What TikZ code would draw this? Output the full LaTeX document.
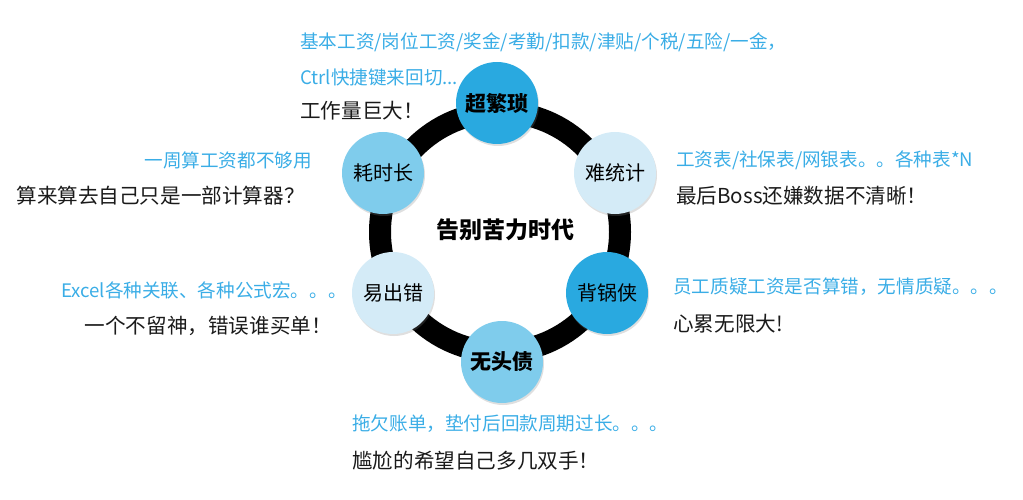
\documentclass[tikz,border=0pt]{standalone}
\usepackage{fontspec}
\setmainfont{Noto Sans CJK SC}
\usetikzlibrary{shadows}
\definecolor{deep}{HTML}{29A9E0}
\definecolor{mid}{HTML}{7FCCEC}
\definecolor{pale}{HTML}{D4EBF7}
\definecolor{note}{HTML}{3AADE6}
\definecolor{ink}{HTML}{1A1A1A}

\begin{document}
\begin{tikzpicture}[x=1pt,y=-1pt,
  bubble/.style={circle,minimum size=82pt,inner sep=0pt,
    drop shadow={shadow xshift=1pt,shadow yshift=-2pt,opacity=.25,fill=gray}},
  tag/.style={font=\fontsize{20}{24}\selectfont},
  hint/.style={inner sep=0pt,text=note,font=\fontsize{18.6}{22}\selectfont},
  say/.style={inner sep=0pt,text=ink,font=\fontsize{20.6}{24}\selectfont}]
  \useasboundingbox (0,0) rectangle (1023,500);
  % ring
  \coordinate (hub) at (500,232);
  \draw[line width=22pt] (hub) circle [radius=120pt];
  \node[font=\bfseries\fontsize{23}{26}\selectfont] (title) at (505,230) {告别苦力时代};
  % bubbles
  \node[bubble,fill=deep] (fan) at (497,103) {\bfseries\fontsize{21}{24}\selectfont 超繁琐};
  \node[bubble,fill=pale,tag] (tong) at (615,173) {难统计};
  \node[bubble,fill=mid,tag] (hao) at (383,173) {耗时长};
  \node[bubble,fill=pale,tag] (cuo) at (393,293) {易出错};
  \node[bubble,fill=deep,tag] (guo) at (607,293) {背锅侠};
  \node[bubble,fill=mid] (zhai) at (502,362) {\bfseries\fontsize{21}{24}\selectfont 无头债};
  % notes
  \node[hint,anchor=west] (fan_a) at (300,42) {基本工资/岗位工资/奖金/考勤/扣款/津贴/个税/五险/一金，};
  \node[hint,anchor=west] (fan_b) at (300,77) {Ctrl快捷键来回切...};
  \node[say,anchor=west] (fan_c) at (300,111) {工作量巨大！};
  \node[hint,anchor=east] (hao_a) at (312,160) {一周算工资都不够用};
  \node[say,anchor=east] (hao_b) at (305,196) {算来算去自己只是一部计算器？};
  \node[hint,anchor=west] (tong_a) at (676,160) {工资表/社保表/网银表。。各种表*N};
  \node[say,anchor=west] (tong_b) at (676,196) {最后Boss还嫌数据不清晰！};
  \node[hint,anchor=east] (cuo_a) at (347,290) {Excel各种关联、各种公式宏。。。};
  \node[say,anchor=east] (cuo_b) at (332,326) {一个不留神，错误谁买单！};
  \node[hint,anchor=west] (guo_a) at (673,287) {员工质疑工资是否算错，无情质疑。。。};
  \node[say,anchor=west] (guo_b) at (673,324) {心累无限大!};
  \node[hint,anchor=west] (zhai_a) at (352,424) {拖欠账单，垫付后回款周期过长。。。};
  \node[say,anchor=west] (zhai_b) at (352,461) {尴尬的希望自己多几双手！};
\end{tikzpicture}
\end{document}
